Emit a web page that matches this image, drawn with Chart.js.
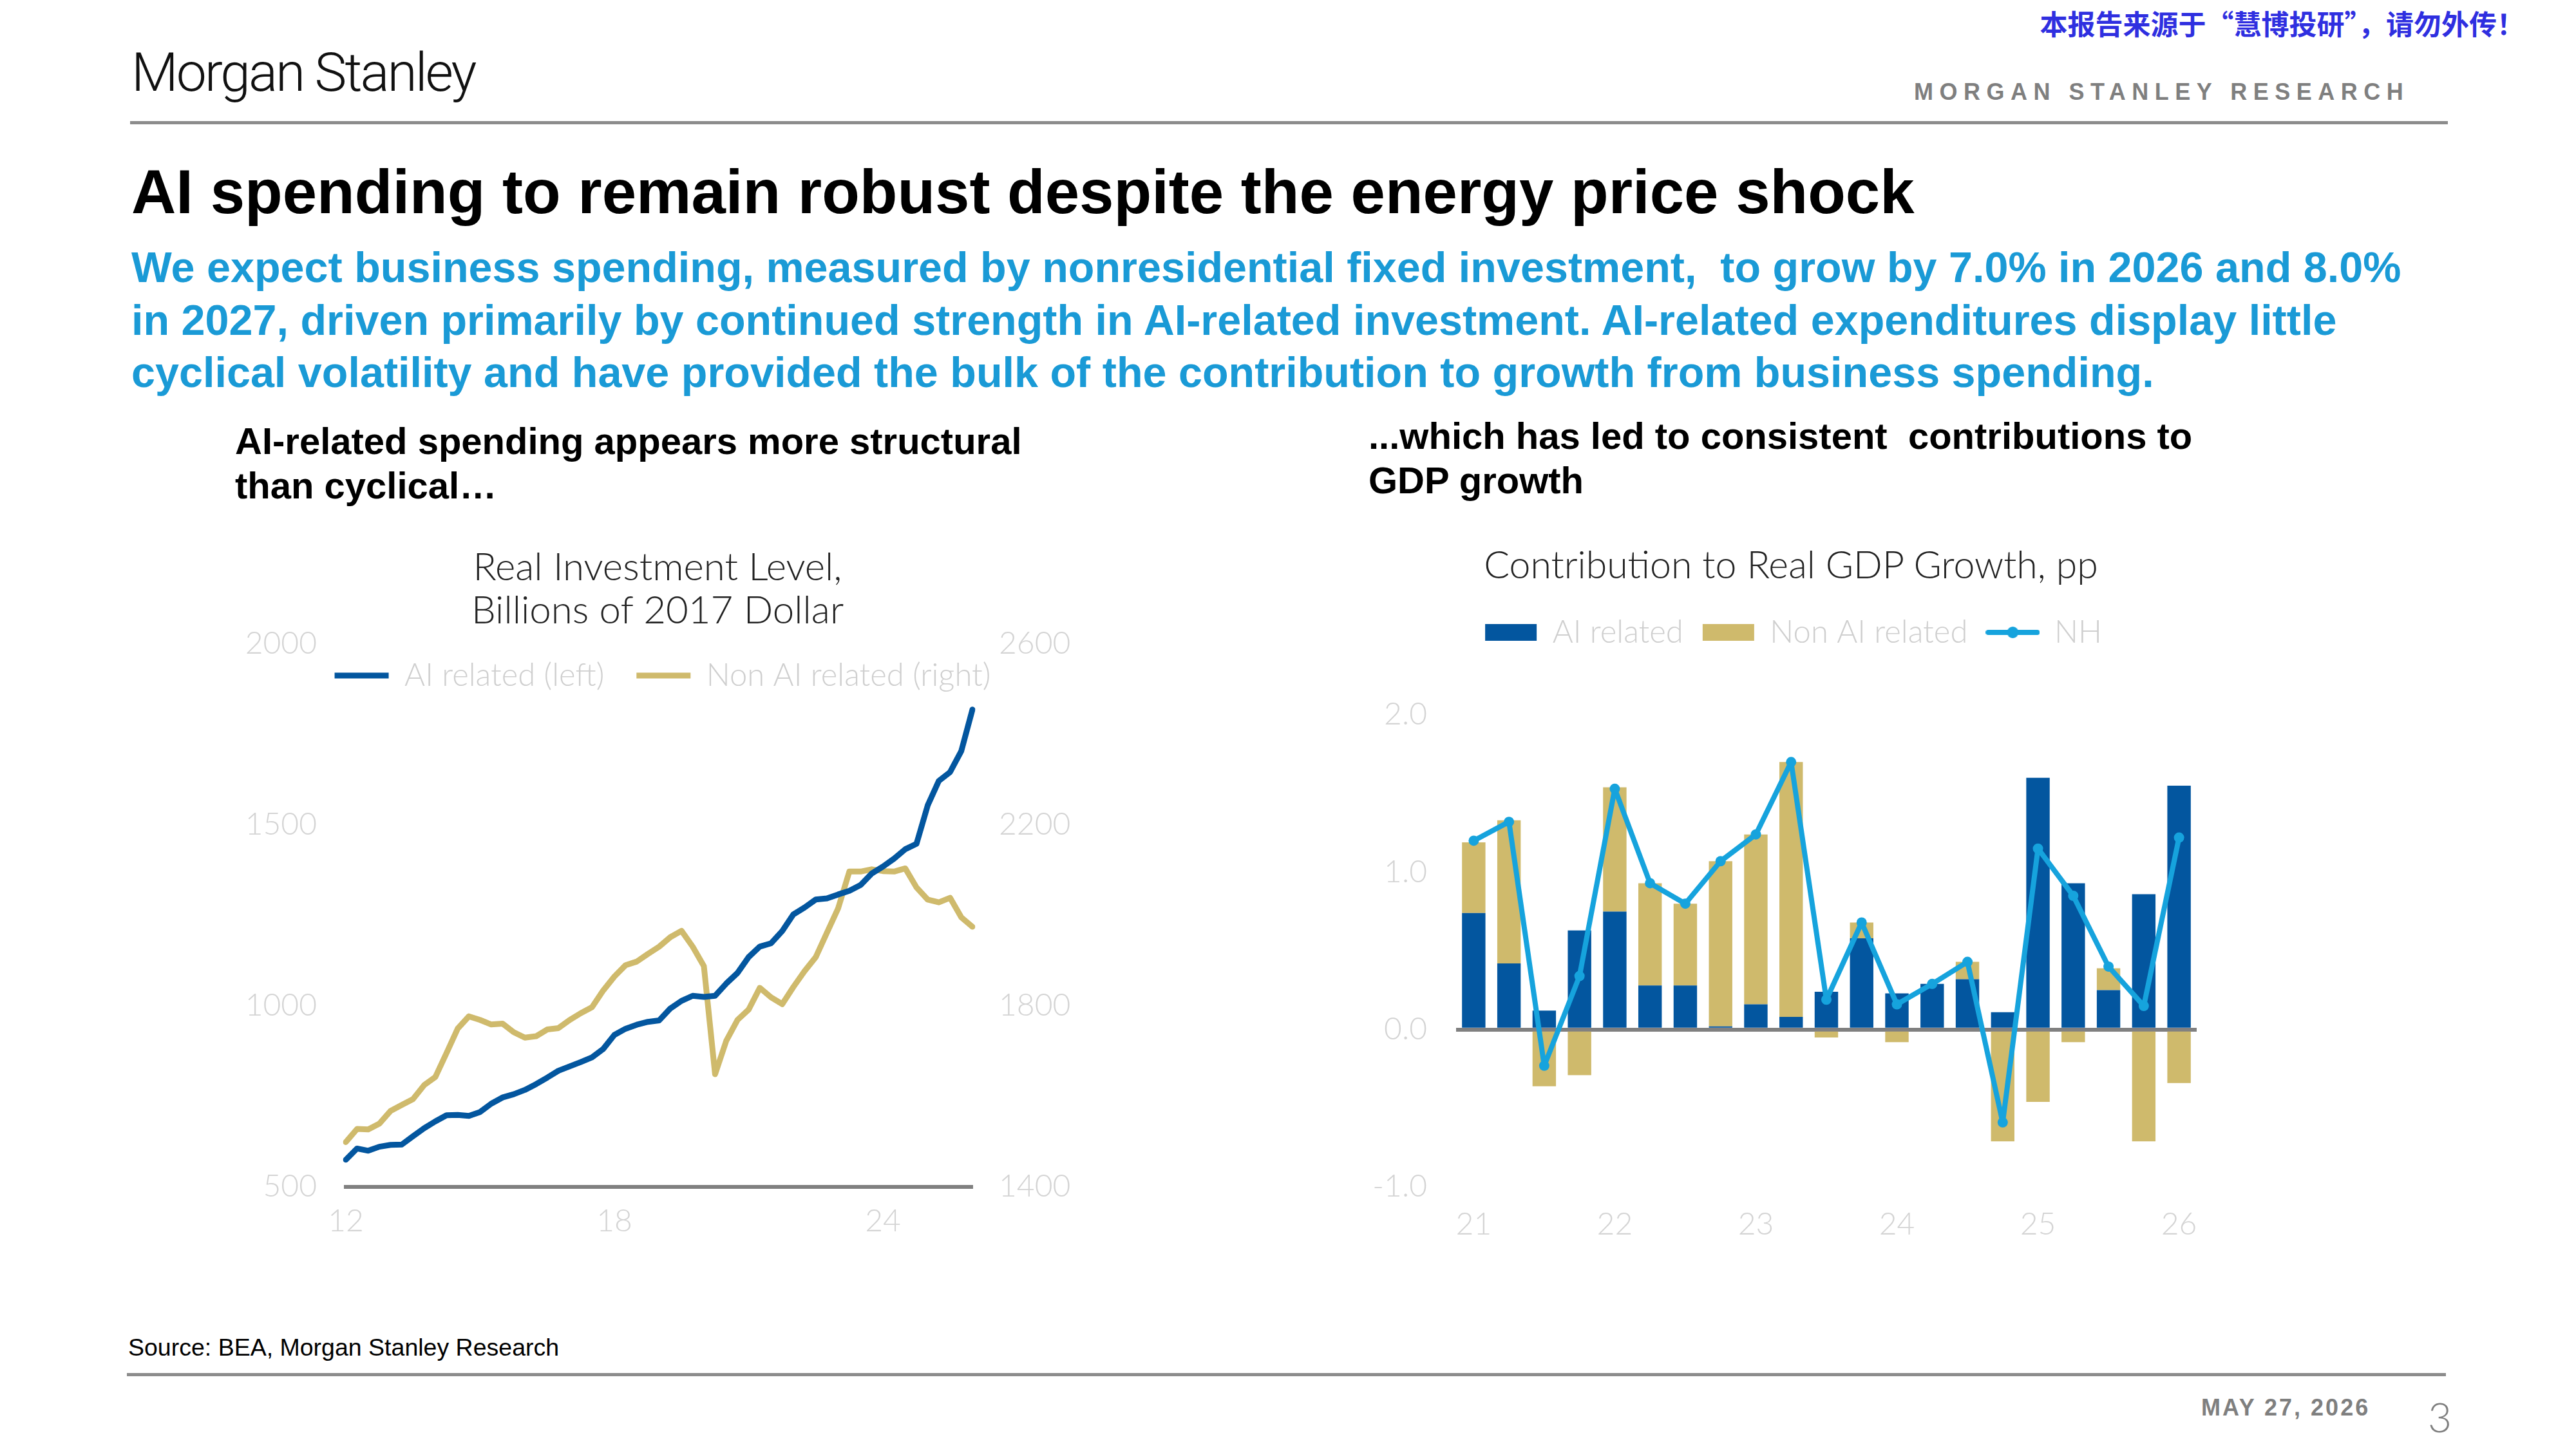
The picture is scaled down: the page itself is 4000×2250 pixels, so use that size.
<!DOCTYPE html>
<html>
<head>
<meta charset="utf-8">
<script src="https://cdn.jsdelivr.net/npm/chart.js@4.4.1/dist/chart.umd.min.js"></script>
<style>
  html, body { margin: 0; padding: 0; background: #fff; }
  body { width: 4000px; height: 2250px; position: relative; overflow: hidden; font-family: "Liberation Sans", Arial, sans-serif; }
  .abs { position: absolute; white-space: pre; line-height: 1; }
  .rule { position: absolute; background: #8c8c8c; }
  #watermark { right: 80px; top: 14px; font-family: "Noto Sans CJK SC", sans-serif; font-weight: 700; font-size: 43px; color: #2f2fe0; }
  #logo { left: 204px; top: 71px; font-family: Roboto, sans-serif; font-weight: 300; font-size: 84px; letter-spacing: -3px; color: #111; }
  #msr { left: 2972px; top: 125px; font-weight: 700; font-size: 36px; letter-spacing: 9.5px; color: #7f7f7f; }
  #title { left: 204px; top: 250px; font-weight: 700; font-size: 96px; color: #000; }
  #lead { left: 204px; top: 375px; font-weight: 700; font-size: 66.5px; line-height: 81.5px; color: #1a9ad6; }
  .sub { font-weight: 700; font-size: 58px; line-height: 69px; color: #000; }
  .ctitle { font-family: Lato, sans-serif; font-weight: 300; color: #222; text-align: center; }
  #source { left: 199px; top: 2074px; font-size: 37.5px; color: #000; }
  #date { left: 3418px; top: 2168px; font-weight: 700; font-size: 36px; letter-spacing: 3px; color: #7f7f7f; }
  #page { left: 3770px; top: 2168px; font-family: Lato, sans-serif; font-weight: 300; font-size: 64px; color: #7f7f7f; }
  canvas { position: absolute; }
</style>
</head>
<body>
<div class="abs" id="watermark">本报告来源于“慧博投研”，请勿外传！</div>
<div class="abs" id="logo">Morgan Stanley</div>
<div class="abs" id="msr">MORGAN STANLEY RESEARCH</div>
<div class="rule" style="left:202px;top:188px;width:3599px;height:5px;"></div>
<div class="abs" id="title">AI spending to remain robust despite the energy price shock</div>
<div class="abs" id="lead">We expect business spending, measured by nonresidential fixed investment,  to grow by 7.0% in 2026 and 8.0%
in 2027, driven primarily by continued strength in AI-related investment. AI-related expenditures display little
cyclical volatility and have provided the bulk of the contribution to growth from business spending.</div>
<div class="abs sub" style="left:365px;top:650px;">AI-related spending appears more structural
than cyclical…</div>
<div class="abs sub" style="left:2125px;top:642px;">...which has led to consistent  contributions to
GDP growth</div>
<div class="abs ctitle" style="left:521px;top:845px;width:1000px;font-size:60px;line-height:67px;">Real Investment Level,
Billions of 2017 Dollar</div>
<div class="abs ctitle" style="left:2281px;top:841px;width:1000px;font-size:59px;line-height:70px;">Contribution to Real GDP Growth, pp</div>

<canvas id="chart-level" width="1458" height="1049" style="left:300px;top:891px;"></canvas>
<canvas id="chart-contrib" width="1630" height="1050" style="left:1970px;top:890px;"></canvas>

<div class="abs" id="source">Source: BEA, Morgan Stanley Research</div>
<div class="rule" style="left:197px;top:2132px;width:3601px;height:5px;"></div>
<div class="abs" id="date">MAY 27, 2026</div>
<div class="abs" id="page">3</div>

<script>
// left chart: real investment level, quarterly 2012Q1 - 2026Q1
const levelQuarters = [
  '12Q1','12Q2','12Q3','12Q4','13Q1','13Q2','13Q3','13Q4','14Q1','14Q2','14Q3','14Q4',
  '15Q1','15Q2','15Q3','15Q4','16Q1','16Q2','16Q3','16Q4','17Q1','17Q2','17Q3','17Q4',
  '18Q1','18Q2','18Q3','18Q4','19Q1','19Q2','19Q3','19Q4','20Q1','20Q2','20Q3','20Q4',
  '21Q1','21Q2','21Q3','21Q4','22Q1','22Q2','22Q3','22Q4','23Q1','23Q2','23Q3','23Q4',
  '24Q1','24Q2','24Q3','24Q4','25Q1','25Q2','25Q3','25Q4','26Q1'
];
const levelYearTicks = ['12', '18', '24'];
const aiLevel = [
  575, 606, 600, 611, 616, 617, 640, 662, 681, 698, 699, 696,
  707, 730, 747, 756, 768, 784, 802, 821, 833, 845, 858, 881,
  920, 937, 948, 956, 960, 993, 1014, 1028, 1025, 1028, 1062, 1091,
  1135, 1164, 1173, 1207, 1253, 1272, 1294, 1297, 1308, 1318, 1334, 1366,
  1385, 1407, 1433, 1448, 1554, 1622, 1646, 1704, 1819
];
const nonAiLevel = [
  1499, 1528, 1527, 1540, 1568, 1581, 1594, 1625, 1643, 1696, 1750, 1777,
  1769, 1759, 1761, 1742, 1730, 1733, 1748, 1751, 1769, 1784, 1797, 1834,
  1865, 1890, 1898, 1915, 1931, 1952, 1966, 1931, 1888, 1649, 1723, 1769,
  1792, 1840, 1819, 1804, 1842, 1877, 1908, 1962, 2016, 2097, 2097, 2102,
  2098, 2097, 2104, 2062, 2035, 2029, 2039, 1996, 1975
];
const leftTicks = [500, 1000, 1500, 2000];
const rightTicks = [1400, 1800, 2200, 2600];

// right chart: contribution to real GDP growth, pp, 2021Q1 - 2026Q1
const contribQuarters = [
  '21Q1','21Q2','21Q3','21Q4','22Q1','22Q2','22Q3','22Q4','23Q1','23Q2','23Q3','23Q4',
  '24Q1','24Q2','24Q3','24Q4','25Q1','25Q2','25Q3','25Q4','26Q1'
];
const contribYearTicks = ['21', '22', '23', '24', '25', '26'];
const aiContrib = [0.74, 0.42, 0.12, 0.63, 0.75, 0.28, 0.28, 0.02, 0.16, 0.08, 0.24, 0.58, 0.23, 0.29, 0.32, 0.11, 1.60, 0.93, 0.25, 0.86, 1.55];
const nonAiContrib = [0.45, 0.91, -0.36, -0.29, 0.79, 0.65, 0.52, 1.05, 1.08, 1.62, -0.05, 0.10, -0.08, 0.00, 0.11, -0.71, -0.46, -0.08, 0.14, -0.71, -0.34];
const nhContrib = [1.20, 1.32, -0.23, 0.34, 1.53, 0.93, 0.80, 1.07, 1.24, 1.70, 0.19, 0.68, 0.16, 0.29, 0.43, -0.59, 1.15, 0.85, 0.40, 0.15, 1.22];

const BLUE = '#03569f';
const GOLD = '#cfba6c';
const NH = '#16a3dd';
const AXIS = '#808080';
const FAINT = '#d4d4d4';
const chartFont = { family: 'Lato, sans-serif', weight: 300 };

function yearTick(quarters, years) {
  return function (val, index) {
    const q = quarters[index];
    const y = q.slice(0, 2);
    return (q.endsWith('Q1') && years.includes(y)) ? y : '';
  };
}

// moves the legend box after layout, so it can sit inside the plot like the original
const legendShift = {
  id: 'legendShift',
  afterLayout(chart, args, opts) {
    if (opts.top == null) return;
    const lg = chart.legend;
    const h = lg.height;
    lg.top = opts.top;
    lg.bottom = opts.top + h;
  }
};

new Chart(document.getElementById('chart-level'), {
  type: 'line',
  plugins: [legendShift],
  data: {
    labels: levelQuarters,
    datasets: [
      { label: 'AI related (left)', data: aiLevel, yAxisID: 'yL', borderColor: BLUE, backgroundColor: BLUE,
        borderWidth: 9, pointRadius: 0, borderCapStyle: 'round', borderJoinStyle: 'round', tension: 0 },
      { label: 'Non AI related (right)', data: nonAiLevel, yAxisID: 'yR', borderColor: GOLD, backgroundColor: GOLD,
        borderWidth: 9, pointRadius: 0, borderCapStyle: 'round', borderJoinStyle: 'round', tension: 0 }
    ]
  },
  options: {
    responsive: false,
    animation: false,
    devicePixelRatio: 1,
    layout: { padding: 0 },
    plugins: {
      tooltip: { enabled: false },
      legendShift: { top: 83.5 },
      legend: {
        position: 'top',
        align: 'center',
        labels: {
          usePointStyle: true, pointStyle: 'line', pointStyleWidth: 84, boxHeight: 12,
          color: '#cfcfcf', font: { ...chartFont, size: 49 }, padding: 50
        }
      }
    },
    scales: {
      x: {
        afterFit: s => { s.height = 97; },
        grid: { display: false, drawTicks: false },
        border: { display: true, color: AXIS, width: 6 },
        ticks: { autoSkip: false, maxRotation: 0, padding: 25, color: FAINT, font: { ...chartFont, size: 48 },
                 callback: yearTick(levelQuarters, levelYearTicks) }
      },
      yL: {
        position: 'left', min: 500, max: 2000,
        afterFit: s => { s.width = 237; },
        afterBuildTicks: s => { s.ticks = leftTicks.map(v => ({ value: v })); },
        grid: { display: false, drawTicks: false },
        border: { display: false },
        ticks: { padding: 45, color: FAINT, font: { ...chartFont, size: 48 }, callback: v => String(v) }
      },
      yR: {
        position: 'right', min: 1400, max: 2600,
        afterFit: s => { s.width = 248; },
        afterBuildTicks: s => { s.ticks = rightTicks.map(v => ({ value: v })); },
        grid: { display: false, drawTicks: false },
        border: { display: false },
        ticks: { padding: 41, color: FAINT, font: { ...chartFont, size: 48 }, callback: v => String(v) }
      }
    }
  }
});

// legend icon for the NH line (line with a dot)
const nhIcon = document.createElement('canvas');
nhIcon.width = 84;
nhIcon.height = 26;
const ic = nhIcon.getContext('2d');
ic.strokeStyle = NH; ic.lineWidth = 8; ic.lineCap = 'round';
ic.beginPath(); ic.moveTo(4, 13); ic.lineTo(80, 13); ic.stroke();
ic.fillStyle = NH; ic.beginPath(); ic.arc(42, 13, 9, 0, Math.PI * 2); ic.fill();

new Chart(document.getElementById('chart-contrib'), {
  type: 'bar',
  data: {
    labels: contribQuarters,
    datasets: [
      { label: 'AI related', data: aiContrib, backgroundColor: BLUE, order: 2, xAxisID: 'x', yAxisID: 'y',
        barPercentage: 0.665, categoryPercentage: 1 },
      { label: 'Non AI related', data: nonAiContrib, backgroundColor: GOLD, order: 2, xAxisID: 'x', yAxisID: 'y',
        barPercentage: 0.665, categoryPercentage: 1 },
      { label: 'NH', type: 'line', data: nhContrib, borderColor: NH, backgroundColor: NH, order: 1, xAxisID: 'x', yAxisID: 'y',
        borderWidth: 8, pointRadius: 8, pointBorderWidth: 0, pointBackgroundColor: NH,
        borderJoinStyle: 'round', tension: 0 }
    ]
  },
  options: {
    responsive: false,
    animation: false,
    devicePixelRatio: 1,
    layout: { padding: { top: 37.5, left: 0, right: 0, bottom: 0 } },
    plugins: {
      tooltip: { enabled: false },
      legend: {
        position: 'top',
        align: 'center',
        labels: {
          usePointStyle: true, pointStyleWidth: 80, boxHeight: 26,
          color: '#cfcfcf', font: { ...chartFont, size: 49 }, padding: 30,
          sort: (a, b) => a.datasetIndex - b.datasetIndex,
          generateLabels: chart => {
            const items = Chart.defaults.plugins.legend.labels.generateLabels(chart);
            items.forEach(it => { it.pointStyle = it.datasetIndex === 2 ? nhIcon : 'rect'; it.lineWidth = 0; });
            return items;
          }
        }
      }
    },
    scales: {
      x: {
        stacked: true,
        afterFit: s => { s.height = 97; },
        grid: { display: false, drawTicks: false },
        border: { display: false },
        ticks: { autoSkip: false, maxRotation: 0, padding: 30, color: FAINT, font: { ...chartFont, size: 48 },
                 callback: yearTick(contribQuarters, contribYearTicks) }
      },
      y: {
        stacked: true, min: -1, max: 2,
        afterFit: s => { s.width = 291; },
        ticks: { stepSize: 1, padding: 45, color: FAINT, font: { ...chartFont, size: 48 },
                 callback: v => v.toFixed(1) },
        grid: { drawTicks: false, lineWidth: 6, color: c => (c.tick && c.tick.value === 0) ? AXIS : 'rgba(0,0,0,0)' },
        border: { display: false }
      },
      // empty spacer scales: room between legend and plot, and on the right side
      spacer: {
        axis: 'x', type: 'category', position: 'top',
        afterFit: s => { s.height = 93.5; },
        grid: { display: false, drawTicks: false },
        border: { display: false },
        ticks: { display: false }
      },
      padRight: {
        axis: 'y', type: 'linear', position: 'right',
        afterFit: s => { s.width = 189; },
        grid: { display: false, drawTicks: false },
        border: { display: false },
        ticks: { display: false }
      }
    }
  }
});
</script>
</body>
</html>
